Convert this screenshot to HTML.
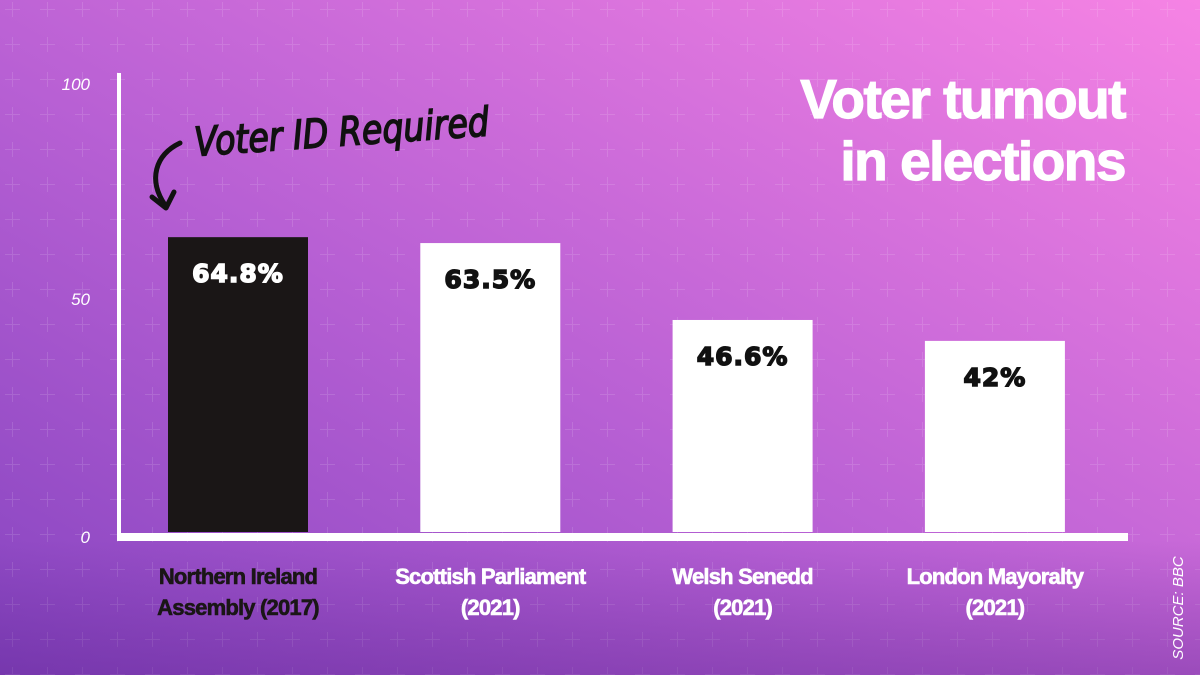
<!DOCTYPE html>
<html><head><meta charset="utf-8"><style>
html,body{margin:0;padding:0}
body{width:1200px;height:675px;overflow:hidden;font-family:"Liberation Sans",sans-serif}
</style></head><body>
<svg width="1200" height="675" viewBox="0 0 1200 675" xmlns="http://www.w3.org/2000/svg">
<defs>
<linearGradient id="bg" x1="0" y1="1" x2="1" y2="0">
<stop offset="0" stop-color="#8544c0"/>
<stop offset="0.45" stop-color="#b860d4"/>
<stop offset="1" stop-color="#f683e4"/>
</linearGradient>
<linearGradient id="shade" x1="0" y1="0" x2="0" y2="1">
<stop offset="0.8" stop-color="#5a1f8a" stop-opacity="0"/>
<stop offset="1" stop-color="#5a1f8a" stop-opacity="0.35"/>
</linearGradient>
<pattern id="plus" width="35" height="35" patternUnits="userSpaceOnUse" x="-5" y="-8">
<path d="M17.5 10v15M10 17.5h15" stroke="#ffffff" stroke-opacity="0.12" stroke-width="1"/>
</pattern>
</defs>
<rect width="1200" height="675" fill="url(#bg)"/>
<rect width="1200" height="675" fill="url(#plus)"/>
<rect width="1200" height="675" fill="url(#shade)"/>
<g id="chart"></g>
<text x="1125" y="118" text-anchor="end" font-size="55" font-weight="bold" fill="#fff" letter-spacing="-1.5" stroke="#fff" stroke-width="1.2">Voter turnout</text>
<text x="1125" y="180" text-anchor="end" font-size="55" font-weight="bold" fill="#fff" letter-spacing="-1.5" stroke="#fff" stroke-width="1.2">in elections</text>
<text x="195" y="156" font-size="40" font-style="italic" fill="#111" stroke="#111" stroke-width="1.5" font-family="'DejaVu Sans Condensed','Liberation Sans Narrow',sans-serif" textLength="295" lengthAdjust="spacingAndGlyphs" transform="rotate(-4 195 150)">Voter ID Required</text>
<path d="M180 143 C155 155,148 180,165 205" stroke="#111" stroke-width="5" fill="none" stroke-linecap="round"/>
<path d="M152 197 L166 208 L174 192" stroke="#111" stroke-width="5" fill="none" stroke-linecap="round" stroke-linejoin="round"/>
<text x="1183" y="608" text-anchor="middle" font-size="15" font-style="italic" fill="#fff" transform="rotate(-90 1183 608)">SOURCE: BBC</text>
</svg>
<script>
const categories = [["Northern Ireland","Assembly (2017)"],["Scottish Parliament","(2021)"],["Welsh Senedd","(2021)"],["London Mayoralty","(2021)"]];
const values = [64.8, 63.5, 46.6, 42];
const valueLabels = ["64.8%","63.5%","46.6%","42%"];
const yTicks = [0, 50, 100];
const ns = "http://www.w3.org/2000/svg";
const g = document.getElementById('chart');
const base = 532;
function y(v){ return base - 4.55 * v; }
function x(i){ return 168 + i * 252.3; }
const bw = 140;
function mk(tag, attrs){ const e = document.createElementNS(ns, tag); for (const k in attrs) e.setAttribute(k, attrs[k]); g.appendChild(e); return e; }
yTicks.forEach((t, i) => {
  const e = mk('text', {x: 90, y: (t===0?543:t===50?305:90), 'text-anchor':'end', 'font-size':17, 'font-style':'italic', fill:'#fff'});
  e.textContent = t;
  
  
});
values.forEach((v, i) => {
  const r = mk('rect', {x: x(i), y: y(v), width: bw, height: base - y(v), fill: i===0 ? '#1a1616' : '#ffffff'});
  
  
  const col = i===0 ? '#fff' : '#111';
  const t = mk('text', {x: x(i) + bw/2, y: y(v) + 45, 'text-anchor':'middle', 'font-size':25, 'font-weight':'bold', 'font-family':'"DejaVu Sans",sans-serif', fill: col, stroke: col, 'stroke-width':1.5, 'letter-spacing':'1'});
  t.textContent = valueLabels[i];
  
  
  categories[i].forEach((line, j) => {
    const cc = i===0 ? '#1a1616' : '#fff';
    const c = mk('text', {x: x(i) + bw/2, y: 584 + j*31, 'text-anchor':'middle', 'font-size':22, 'font-weight':'bold', fill: cc, stroke: cc, 'stroke-width':0.6, 'letter-spacing':'-0.8'});
    c.textContent = line;
    
    
  });
});
const ya = mk('rect', {x: 117, y: 73, width: 4, height: 468, fill:'#fff'});


const xa = mk('rect', {x: 117, y: 533, width: 1011, height: 8, fill:'#fff'});


</script>
</body></html>
